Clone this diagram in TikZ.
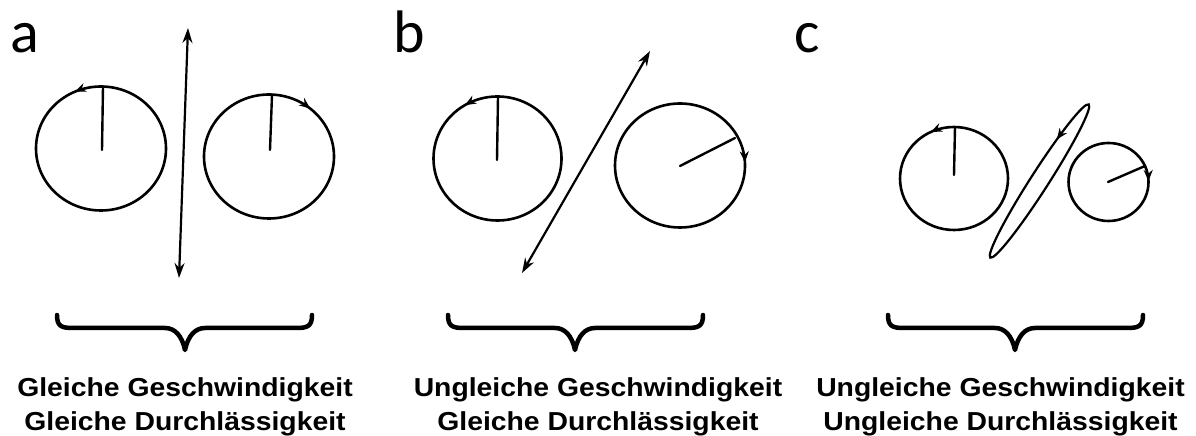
\documentclass[tikz,border=0pt]{standalone}
\usepackage{fontspec}
\newfontfamily\tagfont{Carlito}
\newfontfamily\capfont[FakeStretch=1.09]{Liberation Sans}
\usetikzlibrary{arrows.meta, decorations.markings}

\tikzset{
  wheel/.style={line width=2.6pt},
  spoke/.style={line width=2.4pt, line cap=round},
  flow/.style={line width=2.2pt, {Stealth[length=15pt,width=10pt]}-{Stealth[length=15pt,width=10pt]}},
  turnccw/.style={postaction={decorate}, decoration={markings,
      mark=at position #1 with {\arrow{Stealth[length=11pt,width=9pt]}}}},
  turncw/.style={postaction={decorate}, decoration={markings,
      mark=at position #1 with {\arrowreversed{Stealth[length=11pt,width=9pt]}}}},
  bracket/.style={line width=4.5pt, line cap=round, line join=round},
  tag/.style={anchor=base west, inner sep=0pt, font=\tagfont\fontsize{60}{60}\selectfont},
  caption/.style={anchor=north, inner sep=0pt, align=center,
      font=\capfont\bfseries\fontsize{26}{34}\selectfont}
}

% brace: left end, tip, right end
\newcommand{\capbrace}[3]{%
  \draw[bracket] (#1,121) .. controls (#1,110) and (#1+4,108) .. (#1+16,108)
    -- (#2-20,108) .. controls (#2-10,108) and (#2-3,100) .. (#2,86)
    .. controls (#2+3,100) and (#2+10,108) .. (#2+20,108)
    -- (#3-16,108) .. controls (#3-4,108) and (#3,110) .. (#3,121);}

\begin{document}
\begin{tikzpicture}[x=1pt, y=1pt]
  \useasboundingbox (0,0) rectangle (1196,436);

  % panel a
  \node[tag] (taga) at (10,383) {a};
  \coordinate (ca1) at (101,287.5);
  \coordinate (ca2) at (269,279.5);
  \draw[wheel, turnccw=0.317] (ca1) ellipse[x radius=65pt, y radius=62pt];
  \draw[wheel, turncw=0.139] (ca2) ellipse[x radius=65pt, y radius=62pt];
  \draw[spoke] (102,286) -- (103,349);
  \draw[spoke] (270,286) -- (272,341);
  \coordinate (fa1) at (188,408);
  \coordinate (fa2) at (179,158);
  \draw[flow] (fa2) -- (fa1);

  % panel b
  \node[tag] (tagb) at (393,383) {b};
  \coordinate (cb1) at (497.5,277.5);
  \coordinate (cb2) at (680,270.5);
  \draw[wheel, turnccw=0.336] (cb1) ellipse[x radius=64pt, y radius=62pt];
  \draw[wheel, turncw=0.008] (cb2) ellipse[x radius=65pt, y radius=62pt];
  \draw[spoke] (497,276) -- (498,339);
  \draw[spoke] (680,270) -- (735,298);
  \coordinate (fb1) at (650,385);
  \coordinate (fb2) at (522,163);
  \draw[flow] (fb2) -- (fb1);

  % panel c
  \node[tag] (tagc) at (794,383) {c};
  \coordinate (cc1) at (954,257.5);
  \coordinate (cc2) at (1108.5,254);
  \coordinate (cm) at (1039.5,255);
  \draw[wheel, turnccw=0.322] (cc1) ellipse[x radius=54pt, y radius=51.5pt];
  \draw[wheel, turncw=0.004] (cc2) ellipse[x radius=40pt, y radius=39pt];
  \draw[wheel, line width=2.2pt, turnccw=0.13, rotate around={57.3:(cm)}]
    (cm) ellipse[x radius=91pt, y radius=9pt];
  \draw[spoke] (954,261) -- (955,309);
  \draw[spoke] (1108,254) -- (1145,270);

  % braces and captions
  \capbrace{57}{185}{312}
  \capbrace{448}{575}{703}
  \capbrace{888}{1015}{1143}
  \node[caption] (capa) at (185,59) {Gleiche Geschwindigkeit\\Gleiche Durchlässigkeit};
  \node[caption] (capb) at (598,59) {Ungleiche Geschwindigkeit\\Gleiche Durchlässigkeit};
  \node[caption] (capc) at (1000.5,59) {Ungleiche Geschwindigkeit\\Ungleiche Durchlässigkeit};
\end{tikzpicture}
\end{document}
